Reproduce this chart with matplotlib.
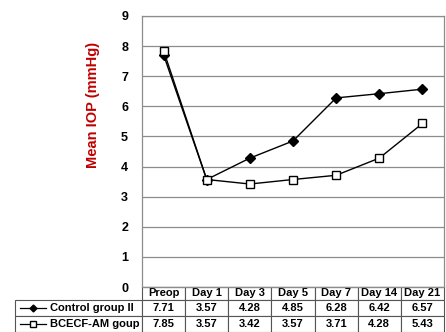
import matplotlib.pyplot as plt
from matplotlib.lines import Line2D

plt.rcParams['font.family'] = ['Liberation Sans', 'DejaVu Sans']

days = ["Preop", "Day 1", "Day 3", "Day 5", "Day 7", "Day 14", "Day 21"]
control = [7.71, 3.57, 4.28, 4.85, 6.28, 6.42, 6.57]
bcecf = [7.85, 3.57, 3.42, 3.57, 3.71, 4.28, 5.43]
labels = ["Control group II", "BCECF-AM goup"]

W, H = 446, 332
fig = plt.figure(figsize=(W / 100, H / 100), dpi=100)
ax = fig.add_axes([142 / W, 1 - 287 / H, 302 / W, 271 / H])

x = range(len(days))
ax.plot(x, control, color="black", lw=1, marker="D", ms=5.5,
        mfc="black", mec="black", zorder=3)
ax.plot(x, bcecf, color="black", lw=1, marker="s", ms=5.5,
        mfc="white", mec="black", zorder=3)

ax.set_xlim(-0.5, len(days) - 0.5)
ax.set_ylim(0, 9)
ax.set_yticks(range(10))
ax.set_yticklabels([str(i) for i in range(10)], fontsize=9,
                   fontweight="bold")
ax.tick_params(axis="y", length=0, pad=10)
ax.set_xticks([])
ax.grid(axis="y", color="#8c8c8c", lw=0.9)
ax.set_axisbelow(True)
for s in ax.spines.values():
    s.set_color("#8c8c8c")
    s.set_linewidth(0.9)

fig.text(93 / W, 1 - 105 / H, "Mean IOP (mmHg)", rotation=90,
         color="#c00000", fontsize=10.5, fontweight="bold",
         ha="center", va="center")

# data table below the plot
cell_text = [[""] + days]
cell_text.append([""] + [f"{v:.2f}" for v in control])
cell_text.append([""] + [f"{v:.2f}" for v in bcecf])
col_w = [127] + [302 / 7] * 7
tbl = ax.table(cellText=cell_text, colWidths=col_w, cellLoc="center",
               bbox=[-127 / 302, -45 / 271, 429 / 302, 45 / 271])
tbl.auto_set_font_size(False)
for (r, c), cell in tbl.get_celld().items():
    cell.set_edgecolor("#555555")
    cell.set_linewidth(0.8)
    cell.set_height(13 if r == 0 else 16)
    cell.get_text().set_fontsize(8)
    cell.get_text().set_fontweight("bold")
tbl[0, 0].visible_edges = ""

# legend keys in the label column
rows_y = [1 - 308 / H, 1 - 324 / H]
styles = [dict(marker="D", mfc="black", ms=3.5),
          dict(marker="s", mfc="white", ms=4.5)]
for yy, lab, st in zip(rows_y, labels, styles):
    fig.add_artist(Line2D([20 / W, 33 / W, 46 / W], [yy, yy, yy],
                          color="black", lw=0.9, mec="black",
                          markevery=[1], transform=fig.transFigure, **st))
    fig.text(50 / W, yy, lab, fontsize=8, fontweight="bold",
             va="center", ha="left")

fig.savefig("out.png", dpi=100)
